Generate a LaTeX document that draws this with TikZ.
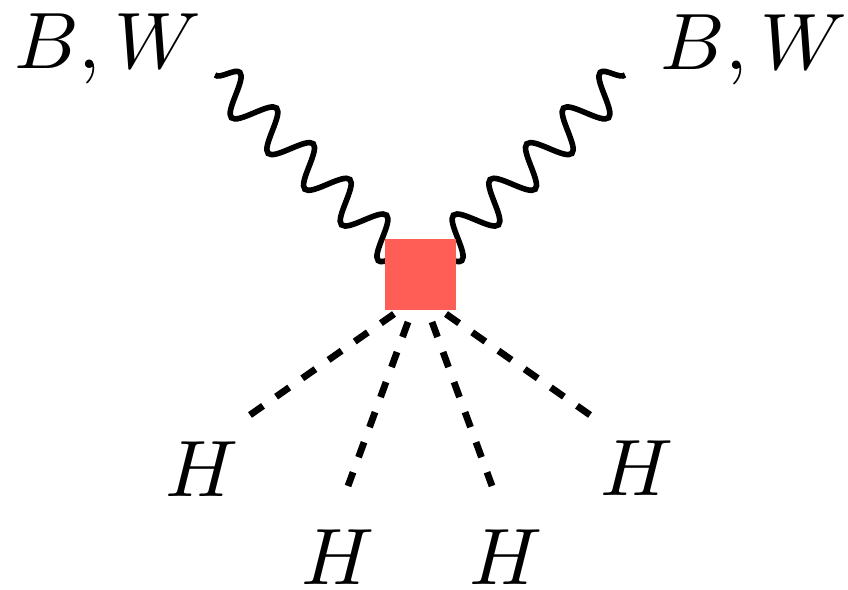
\documentclass[tikz,border=0pt]{standalone}
\usetikzlibrary{decorations.pathmorphing}
\definecolor{sqred}{RGB}{255,94,87}
\begin{document}
\begin{tikzpicture}[x=0.125pt,y=-0.125pt,
  photon/.style={line width=0.7pt,decorate,decoration={snake,amplitude=2.4pt,segment length=6.4pt}},
  scalar/.style={line width=0.85pt,dash pattern=on 2pt off 2pt},
  vtx/.style={fill=sqred,draw=none,minimum size=8.875pt,inner sep=0pt,outer sep=0pt},
  lbl/.style={anchor=base,inner sep=0pt}]
\useasboundingbox (0,0) rectangle (848,590);
\coordinate (c) at (420,274.5);
\coordinate (wl) at (215,75);
\coordinate (wr) at (625,75);
\draw[photon] (wl) -- (c);
\draw[photon,decoration={mirror}] (wr) -- (c);
\node[vtx] (v) at (c) {};
\node[lbl] (bwl) at (107.5,69) {$B,W$};
\node[lbl] (bwr) at (754,70) {$B,W$};
\node[lbl] (h1) at (201.5,496.5) {$H$};
\node[lbl] (h2) at (337.5,585) {$H$};
\node[lbl] (h3) at (505.5,585) {$H$};
\node[lbl] (h4) at (636.5,495.5) {$H$};
\coordinate (s1) at (394,314);
\coordinate (s2) at (408,322);
\coordinate (s3) at (432,322);
\coordinate (s4) at (446,314);
\coordinate (e1) at (250,415);
\coordinate (e2) at (348,486);
\coordinate (e3) at (492,486);
\coordinate (e4) at (590,415);
\draw[scalar] (s1) -- (e1);
\draw[scalar] (s2) -- (e2);
\draw[scalar] (s3) -- (e3);
\draw[scalar] (s4) -- (e4);
\end{tikzpicture}
\end{document}
